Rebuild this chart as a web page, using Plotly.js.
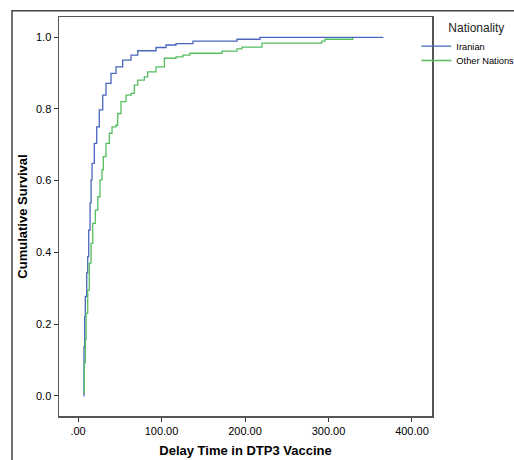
<!DOCTYPE html>
<html>
<head>
<meta charset="utf-8">
<script src="https://cdn.plot.ly/plotly-3.0.1.min.js"></script>
<style>html,body{margin:0;padding:0;background:#fff;}#chart{width:514px;height:460px;}</style>
</head>
<body>
<div id="chart"></div>
<script>
// Iranian
const iranTime = [7.0, 7.2, 8.0, 8.7, 10.4, 11.6, 12.8, 14.4, 15.6, 16.8, 19.5, 22.4, 25.5, 29.6, 33.5, 39.5, 45.5, 53.5, 63.5, 71.5, 93.4, 105.4, 117.4, 137.7, 190.4, 218, 365];
const iranSurv = [0.0, 0.137, 0.221, 0.277, 0.343, 0.388, 0.462, 0.538, 0.602, 0.648, 0.704, 0.750, 0.797, 0.838, 0.871, 0.899, 0.917, 0.936, 0.950, 0.962, 0.971, 0.978, 0.982, 0.989, 0.994, 0.999, 1.0];
// Other Nations
const otherTime = [6.3, 7.5, 8.7, 9.6, 11.6, 13.5, 15.6, 17.6, 20.7, 23.6, 26.3, 28.7, 30.3, 33.5, 37.5, 40.7, 45.5, 47.5, 51.5, 57.5, 63.5, 67.4, 71.5, 79.4, 83.5, 93.4, 103.4, 117.4, 125.7, 134, 172.5, 190.4, 196.4, 220.4, 292, 295.8, 329];
const otherSurv = [0.008, 0.092, 0.156, 0.230, 0.295, 0.370, 0.425, 0.481, 0.518, 0.555, 0.602, 0.630, 0.667, 0.704, 0.732, 0.750, 0.755, 0.787, 0.820, 0.838, 0.843, 0.866, 0.880, 0.889, 0.903, 0.917, 0.941, 0.945, 0.950, 0.955, 0.961, 0.967, 0.972, 0.983, 0.989, 0.994, 0.998];

const xTickVals = [0, 100, 200, 300, 400];
const xTickText = [".00", "100.00", "200.00", "300.00", "400.00"];
const yTickVals = [0, 0.2, 0.4, 0.6, 0.8, 1.0];
const yTickText = ["0.0", "0.2", "0.4", "0.6", "0.8", "1.0"];

const axisColor = "#555555";
const traces = [
  {x: iranTime, y: iranSurv, name: "Iranian", mode: "lines", legend: "legend",
   line: {shape: "hv", color: "#4a66bd", width: 1.3}},
  {x: otherTime, y: otherSurv, name: "Other Nations", mode: "lines", legend: "legend2",
   line: {shape: "hv", color: "#55bf5e", width: 1.3}}
];

const pad = "\u00a0".repeat(9);
const layout = {
  width: 514, height: 460,
  margin: {l: 59, r: 82, t: 17, b: 44, pad: 0, autoexpand: false},
  paper_bgcolor: "#ffffff", plot_bgcolor: "#ffffff",
  font: {family: "Arial, Liberation Sans, sans-serif", size: 11, color: "#000"},
  showlegend: true,
  legend: {
    xref: "container", yref: "container",
    x: 0.81, xanchor: "left", y: 0.965, yanchor: "top",
    title: {text: pad + "Nationality", font: {size: 12, color: "#222"}},
    font: {size: 9.3, color: "#000"},
    itemwidth: 30, bgcolor: "rgba(0,0,0,0)", borderwidth: 0
  },
  legend2: {
    xref: "container", yref: "container",
    x: 0.81, xanchor: "left", y: 0.9, yanchor: "top",
    font: {size: 9.3, color: "#000"},
    itemwidth: 30, bgcolor: "rgba(0,0,0,0)", borderwidth: 0
  },
  xaxis: {
    range: [-22.8, 424], tickvals: xTickVals, ticktext: xTickText, automargin: false,
    showgrid: false, zeroline: false, showline: true, mirror: true,
    linecolor: axisColor, linewidth: 1.5,
    ticks: "outside", ticklen: 4, tickcolor: "#333", tickwidth: 1,
    tickfont: {size: 11},
    title: {text: "<b>Delay Time in DTP3 Vaccine</b>", font: {size: 13}, standoff: 10}
  },
  yaxis: {
    range: [-0.056, 1.056], tickvals: yTickVals, ticktext: yTickText, automargin: false,
    showgrid: false, zeroline: false, showline: true, mirror: true,
    linecolor: axisColor, linewidth: 1.5,
    ticks: "outside", ticklen: 4, tickcolor: "#333", tickwidth: 1,
    tickfont: {size: 11},
    title: {text: "<b>Cumulative Survival</b>", font: {size: 13}, standoff: 5}
  },
  shapes: [
    {type: "rect", xref: "paper", yref: "paper", x0: -0.126, x1: 2, y0: -1, y1: 1.0155,
     line: {color: "#444", width: 1.5}, fillcolor: "rgba(0,0,0,0)", layer: "below"}
  ]
};

Plotly.newPlot("chart", traces, layout, {staticPlot: true, displayModeBar: false});
</script>
</body>
</html>
